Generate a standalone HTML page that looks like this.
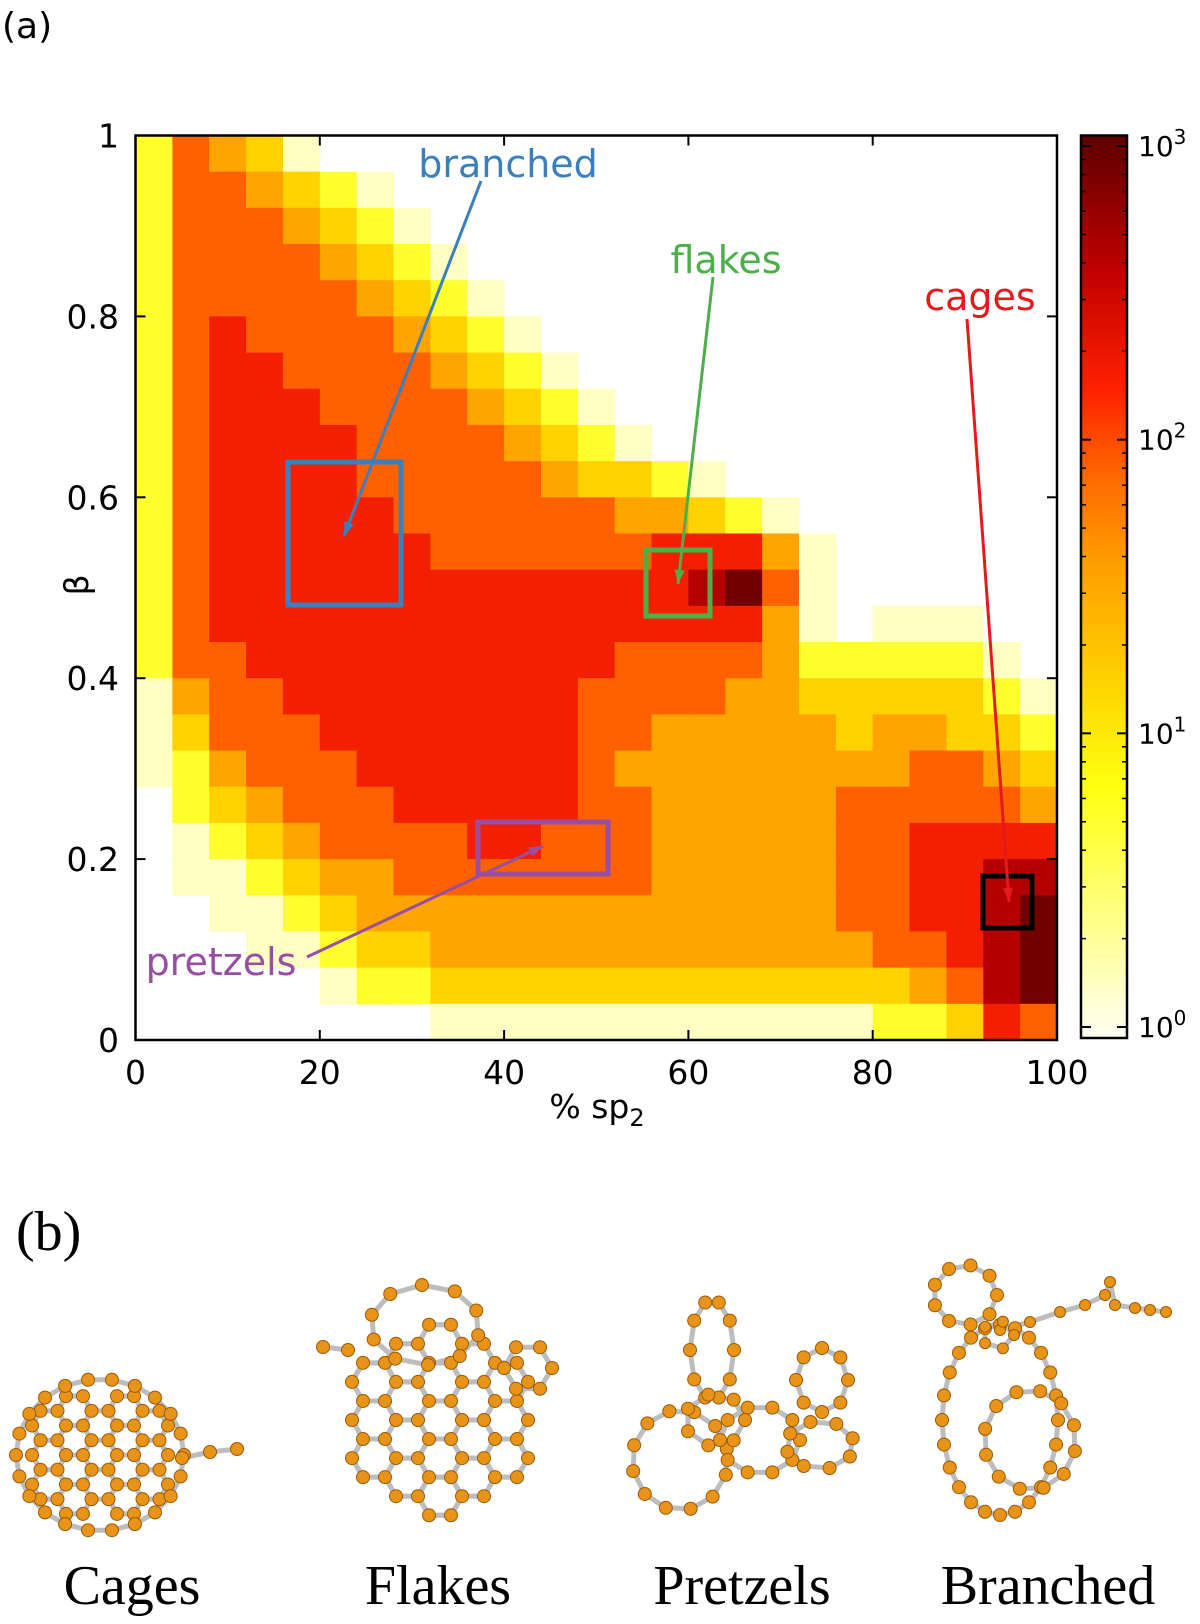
<!DOCTYPE html>
<html><head><meta charset="utf-8">
<style>
html,body{margin:0;padding:0;background:#fff;}
body{width:1200px;height:1624px;overflow:hidden;}
svg{display:block;}
.sans{font-family:"DejaVu Sans","Liberation Sans",sans-serif;}
.serif{font-family:"Liberation Serif","DejaVu Serif",serif;}
</style></head>
<body>
<svg id="fig" width="1200" height="1624" viewBox="0 0 1200 1624">
<text x="2" y="38" class="sans" font-size="36">(a)</text>
<g id="heat"></g>
<g id="axes"></g>
<g id="cbar"></g>
<g id="annot"></g>
<text x="16" y="1250" class="serif" font-size="56">(b)</text>
<g id="mol"></g>
<text x="132" y="1604" text-anchor="middle" class="serif" font-size="56">Cages</text>
<text x="438" y="1604" text-anchor="middle" class="serif" font-size="56">Flakes</text>
<text x="742" y="1604" text-anchor="middle" class="serif" font-size="56">Pretzels</text>
<text x="1048" y="1604" text-anchor="middle" class="serif" font-size="56">Branched</text>
</svg>
<script>
// ---- chart data ----
const xTicks = [0,20,40,60,80,100];
const yTicks = [0,0.2,0.4,0.6,0.8,1];
const yTickLabels = ["0","0.2","0.4","0.6","0.8","1"];
const cbarTicks = [0,1,2,3];
const cbarTickLabels = ["0","1","2","3"];
// density levels (0 = empty .. 8 = ~10^3), rows from beta=1 (top) to beta=0 (bottom), 25 columns of 4% sp2
const densityRows = [
"2543100000000000000000000",
"2554321000000000000000000",
"2555432100000000000000000",
"2555543210000000000000000",
"2555554321000000000000000",
"2565555432100000000000000",
"2566555543210000000000000",
"2566655554321000000000000",
"2566665555432100000000000",
"2566665555543321000000000",
"2566666555555443210000000",
"2566666655555566641000000",
"2566666666666667851000000",
"2566666666666666641011100",
"2556666666666555542222210",
"1455666666665555443333321",
"1355566666665544444344332",
"1245556666665444444445543",
"0234555666665544444555554",
"0123455556655544444556666",
"0112344555555544444556677",
"0011234444444444444556678",
"0001123344444444444455678",
"0000012233333333333334578",
"0000000011111111111122365"
];
const levelColors = ["none","#ffffc4","#ffff30","#ffd200","#ffa400","#ff6000","#f22000","#b40000","#720000"];

const PL=135.5, PR=1057, PT=135.5, PB=1040;
const xs = v => PL + (v/100)*(PR-PL);
const ys = v => PB - v*(PB-PT);
const NS="http://www.w3.org/2000/svg";
function mk(tag, attrs, parent){const e=document.createElementNS(NS,tag);for(const k in attrs)e.setAttribute(k,attrs[k]);parent.appendChild(e);return e;}

const heat=document.getElementById('heat');
const nR=densityRows.length, nC=densityRows[0].length;
for(let r=0;r<nR;r++){
  for(let c=0;c<nC;c++){
    const lv=+densityRows[r][c];
    if(!lv) continue;
    const x0=xs(c*100/nC), x1=xs((c+1)*100/nC);
    const y0=ys(1-r/nR), y1=ys(1-(r+1)/nR);
    const rc=mk('rect',{x:x0,y:y0,width:x1-x0+0.6,height:y1-y0+0.6,fill:levelColors[lv]},heat);
    
    
  }
}

const ax=document.getElementById('axes');
const frame=mk('rect',{x:PL,y:PT,width:PR-PL,height:PB-PT,fill:'none',stroke:'#000','stroke-width':2.5},ax);


xTicks.forEach(t=>{
  const x=xs(t);
  mk('line',{x1:x,x2:x,y1:PB,y2:PB-10,stroke:'#000','stroke-width':2},ax);
  mk('line',{x1:x,x2:x,y1:PT,y2:PT+10,stroke:'#000','stroke-width':2},ax);
  const tx=mk('text',{x:x,y:PB+44,'text-anchor':'middle','font-size':33,class:'sans'},ax);
  tx.textContent=String(t);
  
  
});
yTicks.forEach((t,i)=>{
  const y=ys(t);
  mk('line',{x1:PL,x2:PL+10,y1:y,y2:y,stroke:'#000','stroke-width':2},ax);
  mk('line',{x1:PR,x2:PR-10,y1:y,y2:y,stroke:'#000','stroke-width':2},ax);
  const tx=mk('text',{x:119,y:y+12,'text-anchor':'end','font-size':33,class:'sans'},ax);
  tx.textContent=yTickLabels[i];
  
  
});
const xt=mk('text',{x:597,y:1118,'text-anchor':'middle','font-size':33,class:'sans'},ax);
xt.innerHTML='% sp<tspan font-size="24" dy="8">2</tspan>';


const yt=mk('text',{x:0,y:0,'text-anchor':'middle','font-size':33,class:'sans',transform:'translate(88,585) rotate(-90)'},ax);
yt.textContent='β';



// colorbar
const cb=document.getElementById('cbar');
const CL=1081, CR=1127, CT=135.5, CB=1038;
const cy0=1027, cy3=146;
const cys=v=>cy0-(v/3)*(cy0-cy3);
const defs=mk('defs',{},cb);
const lg=mk('linearGradient',{id:'cg',x1:0,y1:1,x2:0,y2:0},defs);
[[0,'#fffff4'],[0.12,'#ffff90'],[0.28,'#ffff10'],[0.4,'#ffd000'],[0.52,'#ffa000'],[0.62,'#ff6a00'],[0.72,'#ff2000'],[0.85,'#c00000'],[1,'#5e0000']].forEach(s=>mk('stop',{offset:s[0],'stop-color':s[1]},lg));
const cbr=mk('rect',{x:CL,y:CT,width:CR-CL,height:CB-CT,fill:'url(#cg)',stroke:'#000','stroke-width':2.5},cb);


cbarTicks.forEach((t,i)=>{
  const y=cys(t);
  mk('line',{x1:CL,x2:CL+10,y1:y,y2:y,stroke:'#000','stroke-width':2},cb);
  mk('line',{x1:CR,x2:CR-10,y1:y,y2:y,stroke:'#000','stroke-width':2},cb);
  if(t<3){for(let m=2;m<10;m++){const ym=cys(t+Math.log10(m));mk('line',{x1:CL,x2:CL+5,y1:ym,y2:ym,stroke:'#000','stroke-width':1.5},cb);mk('line',{x1:CR,x2:CR-5,y1:ym,y2:ym,stroke:'#000','stroke-width':1.5},cb);}}
  const tx=mk('text',{x:1138,y:y+10,'font-size':28,class:'sans'},cb);
  tx.innerHTML='10<tspan font-size="20" dy="-12">'+cbarTickLabels[i]+'</tspan>';
  
  
});

// annotations
const an=document.getElementById('annot');
function arrow(x1,y1,x2,y2,col){
  mk('line',{x1,y1,x2,y2,stroke:col,'stroke-width':3},an);
  const a=Math.atan2(y2-y1,x2-x1),L=14,W=5;
  const p=[[x2,y2],[x2-L*Math.cos(a)+W*Math.sin(a),y2-L*Math.sin(a)-W*Math.cos(a)],[x2-L*Math.cos(a)-W*Math.sin(a),y2-L*Math.sin(a)+W*Math.cos(a)]];
  mk('polygon',{points:p.map(q=>q.join(',')).join(' '),fill:col},an);
}
function box(x,y,w,h,col,name){const b=mk('rect',{x,y,width:w,height:h,fill:'none',stroke:col,'stroke-width':5},an);}
function label(x,y,t,col,name){const e=mk('text',{x,y,'text-anchor':'middle','font-size':38,fill:col,class:'sans'},an);e.textContent=t;}
box(288,462,113,143,'#3a7fc0','branched-box');
arrow(481,181,344,536,'#3a7fc0');
label(508,177,'branched','#3a7fc0','branched-label');
box(646,550,64,66,'#4daf4a','flakes-box');
arrow(713,277,678,584,'#4daf4a');
label(726,273,'flakes','#4daf4a','flakes-label');
box(983,876,49,52,'#000','cages-box');
arrow(967,319,1009,902,'#e41a1c');
label(980,310,'cages','#e41a1c','cages-label');
box(478,822,130,52,'#984ea3','pretzels-box');
arrow(307,957,543,846,'#984ea3');
label(221,975,'pretzels','#984ea3','pretzels-label');

// molecules (illustrative)
const mol=document.getElementById('mol');
const bonds=mk('g',{stroke:'#bdbdbd','stroke-width':5,'stroke-linecap':'round'},mol);
const atoms=mk('g',{fill:'#e89418',stroke:'#9a5a08','stroke-width':1},mol);
function atom(x,y,r){mk('circle',{cx:x,cy:y,r:r||6.5},atoms);}
function bond(a,b){mk('line',{x1:a[0],y1:a[1],x2:b[0],y2:b[1]},bonds);}
function ring(cx,cy,rx,ry,n,rot,r){const pts=[];for(let i=0;i<n;i++){const t=(rot||0)+i*2*Math.PI/n;pts.push([cx+rx*Math.cos(t),cy+ry*Math.sin(t)]);}pts.forEach((p,i)=>{bond(p,pts[(i+1)%n]);});pts.forEach(p=>atom(p[0],p[1],r));return pts;}
function chain(pts,r){for(let i=0;i<pts.length-1;i++)bond(pts[i],pts[i+1]);pts.forEach(p=>atom(p[0],p[1],r));}
function lattice(cx,cy,b,rx,ry){
  const h=b*Math.sqrt(3);
  const inside=pp=>((pp[0]-cx)/rx)**2+((pp[1]-cy)/ry)**2<=1;
  for(let i=-8;i<=8;i++)for(let j=-8;j<=8;j++){
    const bx=cx+i*1.5*b, by=cy+j*h+(i%2?h/2:0);
    [[bx-b/2,by-h/2],[bx+b/2,by-h/2],[bx+b,by],[bx+b/2,by+h/2],[bx-b/2,by+h/2],[bx-b,by]].forEach((p,k,a)=>{
      const q=a[(k+1)%6];
      if(inside(p)&&inside(q))bond(p,q);
    });
  }
  for(let i=-8;i<=8;i++)for(let j=-8;j<=8;j++){
    const bx=cx+i*1.5*b, by=cy+j*h+(i%2?h/2:0);
    [[bx-b/2,by-h/2],[bx+b/2,by-h/2]].forEach(p=>{if(inside(p))atom(p[0],p[1]);});
  }
}
// cages
lattice(100,1455,17,80,72);
ring(100,1455,84,76,22,0);
chain([[182,1458],[210,1452],[237,1449]]);
// flakes
lattice(440,1420,22,108,108);
ring(425,1325,55,40,10,3.4);
ring(528,1368,24,24,6,0);
chain([[323,1347],[348,1350]]);
// pretzels
ring(712,1350,22,50,10,0);
ring(822,1380,26,32,8,0);
ring(680,1460,48,50,12,0.3);
ring(760,1440,40,34,10,0);
ring(820,1445,34,24,8,0.5);
ring(715,1420,30,26,7,0);
// branched
ring(965,1295,32,30,9,0);
ring(1000,1420,58,95,24,0);
ring(1030,1440,46,50,12,-0.3);
chain([[1000,1330],[1030,1322],[1060,1312],[1085,1305],[1105,1295],[1110,1282],[1115,1305],[1135,1308],[1150,1310],[1166,1312]],5.5);
ring(998,1335,16,14,5,0,5.5);
</script>
</body></html>
